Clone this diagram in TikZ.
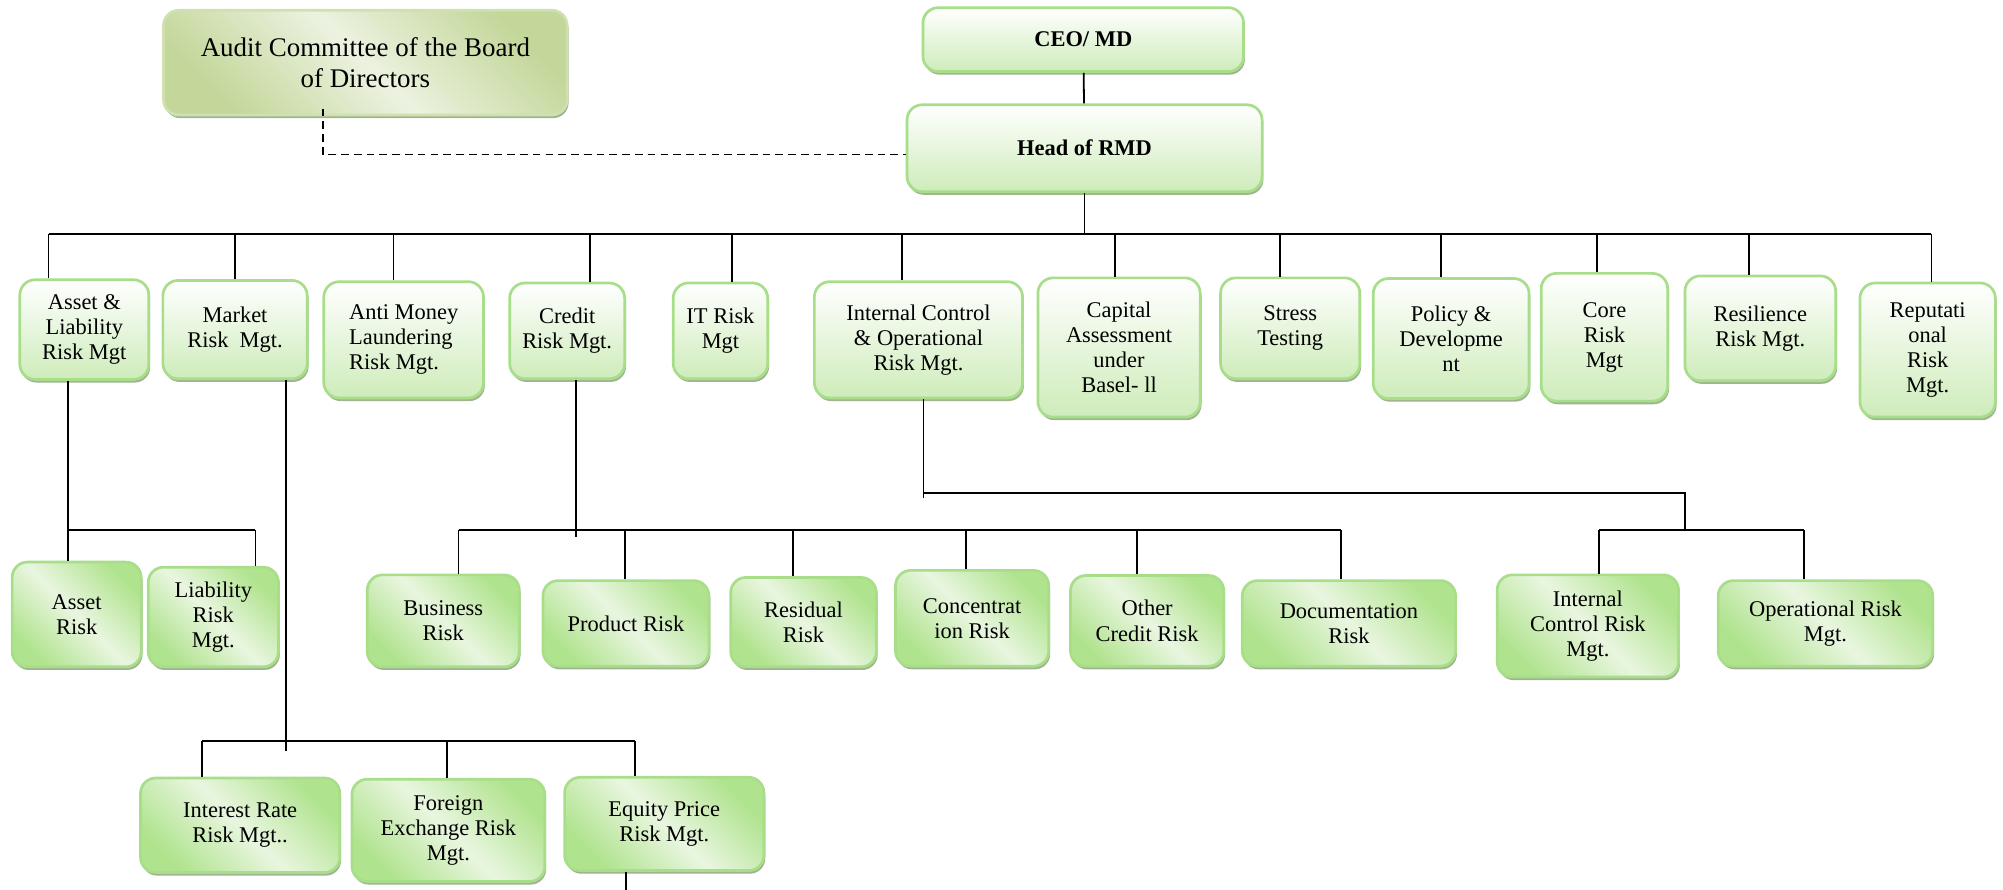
\documentclass[tikz,border=0pt]{standalone}
\usepackage{fontspec}
\setmainfont{Liberation Serif}
\usepackage{tikz}
\usetikzlibrary{positioning,shadows,calc}
\definecolor{rimgreen}{RGB}{168,222,138}
\definecolor{palegreen}{RGB}{206,236,186}
\definecolor{leafgreen}{RGB}{176,227,142}
\definecolor{mistgreen}{RGB}{233,246,224}
\definecolor{olivegreen}{RGB}{196,215,155}
\definecolor{olivemist}{RGB}{236,242,224}
\definecolor{oliverim}{RGB}{208,224,176}
\definecolor{shadegreen}{RGB}{160,180,145}
\newcommand{\Drop}[3]{\path (#1.north) ++(#2,0) coordinate (dtop); \draw [link] (dtop) -- (dtop |- #3);}
\newcommand{\Rise}[3]{\path (#1.south) ++(#2,0) coordinate (dbot); \draw [link] (dbot) -- (dbot |- #3);}

\begin{document}
\begin{tikzpicture}
[x=0.2mm, y=-0.2mm,
 link/.style={line width=0.8pt},
 dims/.style 2 args={minimum width=#1*0.2mm, minimum height=#2*0.2mm},
 box/.style={draw=rimgreen, line width=1.2pt, rounded corners=2.4mm, align=center,
   inner sep=2pt, font=\fontsize{10}{11.2}\selectfont,
   drop shadow={shadow xshift=0.6pt, shadow yshift=-1.4pt, fill=shadegreen, opacity=1}},
 boss/.style={box, top color=white, bottom color=palegreen, font=\fontsize{10}{12}\selectfont\bfseries},
 lvone/.style={box, top color=white, bottom color=palegreen},
 lvtwo/.style={box, left color=leafgreen, right color=leafgreen, middle color=mistgreen, shading angle=135},
 audit/.style={box, draw=oliverim, left color=olivegreen, right color=olivegreen, middle color=olivemist,
   shading angle=135, font=\fontsize{12}{13.8}\selectfont}]

\useasboundingbox (0,0) rectangle (1568,696);

% top of the chart
\node [audit, dims={316}{82}] at (286,49) (audit) {Audit Committee of the Board\\of Directors};
\node [boss, dims={251}{50}] at (848,31) (ceo) {CEO/ MD};
\node [boss, dims={278}{68}] at (849,116) (head) {Head of RMD};

% units under the head
\node [lvone, dims={101}{78}] at (66,258) (alm) {Asset \&\\Liability\\Risk Mgt};
\node [lvone, dims={113}{77}] at (184,258) (mkt) {Market\\Risk~~Mgt.};
\node [lvone, dims={125}{91}, align=left] at (316,266) (aml) {Anti Money\\Laundering\\Risk Mgt.};
\node [lvone, dims={90}{75}] at (444,259) (crd) {Credit\\Risk Mgt.};
\node [lvone, dims={74}{75}] at (564,259) (itr) {IT Risk\\Mgt};
\node [lvone, dims={163}{91}] at (719,266) (ico) {Internal Control\\\& Operational\\Risk Mgt.};
\node [lvone, dims={127}{109}] at (876,272) (cap) {Capital\\Assessment\\under\\Basel- ll};
\node [lvone, dims={109}{79}] at (1010,257) (str) {Stress\\Testing};
\node [lvone, dims={122}{94}] at (1136,265) (pol) {Policy \&\\Developme\\nt};
\node [lvone, dims={99}{100}] at (1256,264) (core) {Core\\Risk\\Mgt};
\node [lvone, dims={118}{82}] at (1378,257) (res) {Resilience\\Risk Mgt.};
\node [lvone, dims={106}{105}] at (1509,274) (rep) {Reputati\\onal\\Risk\\Mgt.};

% second level
\node [lvtwo, dims={101}{82}] at (60,481) (ar) {Asset\\Risk};
\node [lvtwo, dims={102}{78}] at (167,483) (lr) {Liability\\Risk\\Mgt.};
\node [lvtwo, dims={119}{72}] at (347,486) (bsr) {Business\\Risk};
\node [lvtwo, dims={130}{67}] at (490,488) (prd) {Product Risk};
\node [lvtwo, dims={114}{70}] at (629,487) (rsd) {Residual\\Risk};
\node [lvtwo, dims={120}{75}] at (761,484) (con) {Concentrat\\ion Risk};
\node [lvtwo, dims={120}{71}] at (898,486) (oth) {Other\\Credit Risk};
\node [lvtwo, dims={167}{67}] at (1056,488) (doc) {Documentation\\Risk};
\node [lvtwo, dims={142}{80}] at (1243,490) (icr) {Internal\\Control Risk\\Mgt.};
\node [lvtwo, dims={168}{67}] at (1429,488) (opr) {Operational Risk\\Mgt.};
\node [lvtwo, dims={156}{74}] at (188,646) (ir) {Interest Rate\\Risk Mgt..};
\node [lvtwo, dims={151}{80}] at (351,650) (fx) {Foreign\\Exchange Risk\\Mgt.};
\node [lvtwo, dims={156}{73}] at (520,645) (eq) {Equity Price\\Risk Mgt.};

% connectors
\draw [link] (ceo) -- (head);
\path (audit.south) ++(-33,-6) coordinate (dash0);
\draw [link, dash pattern=on 1.2mm off 0.8mm] (dash0) |- ([yshift=-1mm]head.west);

\coordinate (topL) at (38,183);
\coordinate (topR) at (1512,183);
\draw [link] (topL) -- (topR);
\draw [link] (head.south) -- (head.south |- topL);
\Drop{alm}{-28}{topL}
\Drop{mkt}{0}{topL}
\Drop{aml}{-8}{topL}
\Drop{crd}{18}{topL}
\Drop{itr}{9}{topL}
\Drop{ico}{-13}{topL}
\Drop{cap}{-3}{topL}
\Drop{str}{-8}{topL}
\Drop{pol}{-8}{topL}
\Drop{core}{-6}{topL}
\Drop{res}{-9}{topL}
\Drop{rep}{3}{topL}

\coordinate (almL) at (53,415);
\coordinate (almR) at (200,415);
\draw [link] (almL) -- (almR);
\Rise{alm}{-13}{almL}
\Drop{ar}{-7}{almL}
\Drop{lr}{33}{almL}

\coordinate (mktL) at (158,580);
\coordinate (mktR) at (497,580);
\coordinate (mktX) at (0,588);
\draw [link] (mktL) -- (mktR);
\Rise{mkt}{40}{mktX}
\Drop{ir}{-30}{mktL}
\Drop{fx}{-1}{mktL}
\Drop{eq}{-23}{mktL}
\coordinate (pageend) at (0,700);
\Rise{eq}{-30}{pageend}

\coordinate (crdL) at (359,415);
\coordinate (crdR) at (1050,415);
\coordinate (crdX) at (0,420);
\draw [link] (crdL) -- (crdR);
\Rise{crd}{7}{crdX}
\Drop{bsr}{12}{crdL}
\Drop{prd}{-1}{crdL}
\Drop{rsd}{-8}{crdL}
\Drop{con}{-5}{crdL}
\Drop{oth}{-8}{crdL}
\Drop{doc}{-6}{crdL}

\coordinate (icoE) at (1319,386);
\coordinate (icoL) at (1252,415);
\coordinate (icoR) at (1412,415);
\coordinate (icoX) at (0,390);
\Rise{ico}{4}{icoX}
\draw [link] (dbot |- icoE) -- (icoE) -- (icoE |- icoL);
\draw [link] (icoL) -- (icoR);
\Drop{icr}{9}{icoL}
\Drop{opr}{-17}{icoL}
\end{tikzpicture}
\end{document}
